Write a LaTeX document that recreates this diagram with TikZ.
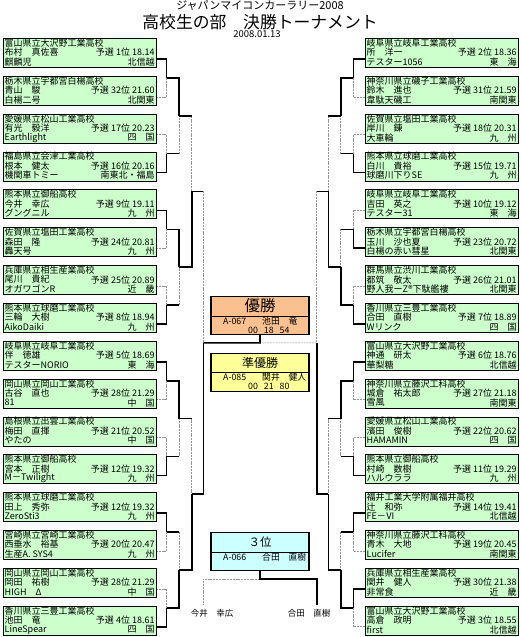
\documentclass[tikz,border=0pt]{standalone}
\usepackage{fontspec}
\newfontfamily\jp{Noto Sans CJK JP}
\usetikzlibrary{calc}
\definecolor{boxgreen}{RGB}{204,255,204}
\definecolor{winorange}{RGB}{250,192,144}
\definecolor{runyellow}{RGB}{255,255,153}
\definecolor{thirdcyan}{RGB}{204,255,255}
\definecolor{losegray}{RGB}{150,150,150}
\tikzset{
  entrybox/.style={draw=black, line width=0.7pt, fill=boxgreen, minimum width=153.5pt, minimum height=29pt, inner sep=0pt, anchor=north west},
  etext/.style={inner sep=0pt, font=\jp\fontsize{9}{9}\selectfont},
  winner/.style={line width=1.6pt, black},
  loser/.style={line width=0.6pt, losegray, dash pattern=on 2pt off 0.8pt},
  prizebox/.style={draw=black, line width=1.2pt, minimum width=98pt, minimum height=38pt, inner sep=0pt, anchor=north},
  ptext/.style={inner sep=0pt, font=\jp\fontsize{8.8}{9}\selectfont, anchor=west},
  lab/.style={inner sep=0pt, font=\jp\fontsize{8.5}{9}\selectfont}
}
\newcommand\entry[8]{%
  \pgfmathsetmacro\myboxtop{38+37.85*(#2-1)}%
  \node[entrybox] (#1#2) at (#8,\myboxtop) {};
  \node[etext, anchor=west] (#1#2s) at ($(#1#2.north west)+(2,5)$) {#3};
  \node[etext, anchor=west] (#1#2n) at ($(#1#2.north west)+(2,14.5)$) {#4};
  \node[etext, anchor=east] (#1#2q) at ($(#1#2.north east)+(-2,14.5)$) {#5};
  \node[etext, anchor=west] (#1#2c) at ($(#1#2.north west)+(2,24)$) {#6};
  \node[etext, anchor=east] (#1#2r) at ($(#1#2.north east)+(-2,24)$) {#7};
}
% #1 xprev, #2 ya, #3 yb, #4 xm, #5 lower wins (0/1), #6 id, #7 arms always thick (0/1)
\newcommand\bmatch[7]{%
  \pgfmathsetmacro\myyj{(#2+#3)/2}%
  \coordinate (#6a) at (#1,#2);%
  \coordinate (#6b) at (#1,#3);%
  \coordinate (#6ta) at (#4,#2);%
  \coordinate (#6tb) at (#4,#3);%
  \coordinate (#6) at (#4,\myyj);%
  \ifnum#5=0\relax
    \draw[loser] (#6tb) -- (#6);
    \ifnum#7=1\relax \draw[winner] (#6b) -- (#6tb); \else \draw[loser] (#6b) -- (#6tb); \fi
    \draw[winner] (#6a) -| (#6);
  \else
    \draw[loser] (#6ta) -- (#6);
    \ifnum#7=1\relax \draw[winner] (#6a) -- (#6ta); \else \draw[loser] (#6a) -- (#6ta); \fi
    \draw[winner] (#6b) -| (#6);
  \fi}
\begin{document}
\begin{tikzpicture}[x=1pt,y=-1pt]
\useasboundingbox (0,0) rectangle (520,637);
\fill[white] (0,0) rectangle (520,637);
% titles
\node[inner sep=0, font=\jp\fontsize{11}{11}\selectfont] (t1) at (260,6) {ジャパンマイコンカーラリー2008};
\node[inner sep=0, font=\jp\fontsize{16.8}{17}\selectfont] (t2) at (260,22.5) {高校生の部　決勝トーナメント};
\node[inner sep=0, font=\jp\fontsize{9.5}{10}\selectfont] (t3) at (257,34.5) {2008.01.13};
% ---------- bracket lines, left ----------
\foreach \k/\w in {1/0,2/1,3/0,4/1,5/0,6/1,7/0,8/1}{
  \pgfmathsetmacro\ya{59+37.85*(2*\k-2)}
  \pgfmathsetmacro\yb{59+37.85*(2*\k-1)}
  \bmatch{156}{\ya}{\yb}{166.5}{\w}{la\k}{0}
}
\foreach \m/\w in {1/0,2/0,3/0,4/1}{
  \pgfmathsetmacro\ya{59+37.85*(4*\m-3.5)}
  \pgfmathsetmacro\yb{59+37.85*(4*\m-1.5)}
  \bmatch{166.5}{\ya}{\yb}{179.2}{\w}{lb\m}{1}
}
\foreach \n/\w in {1/1,2/1}{
  \pgfmathsetmacro\ya{59+37.85*(8*\n-6.5)}
  \pgfmathsetmacro\yb{59+37.85*(8*\n-2.5)}
  \bmatch{179.2}{\ya}{\yb}{191.7}{\w}{lc\n}{1}
}
\pgfmathsetmacro\ya{59+37.85*3.5}
\pgfmathsetmacro\yb{59+37.85*11.5}
\bmatch{191.7}{\ya}{\yb}{203.3}{1}{ld}{1}
% ---------- bracket lines, right ----------
\foreach \k/\w in {1/0,2/1,3/1,4/1,5/0,6/1,7/0,8/0}{
  \pgfmathsetmacro\ya{59+37.85*(2*\k-2)}
  \pgfmathsetmacro\yb{59+37.85*(2*\k-1)}
  \bmatch{364.5}{\ya}{\yb}{353.3}{\w}{ra\k}{0}
}
\foreach \m/\w in {1/0,2/1,3/0,4/1}{
  \pgfmathsetmacro\ya{59+37.85*(4*\m-3.5)}
  \pgfmathsetmacro\yb{59+37.85*(4*\m-1.5)}
  \bmatch{353.3}{\ya}{\yb}{340.7}{\w}{rb\m}{1}
}
\foreach \n/\w in {1/1,2/1}{
  \pgfmathsetmacro\ya{59+37.85*(8*\n-6.5)}
  \pgfmathsetmacro\yb{59+37.85*(8*\n-2.5)}
  \bmatch{340.7}{\ya}{\yb}{328.3}{\w}{rc\n}{1}
}
\pgfmathsetmacro\ya{59+37.85*3.5}
\pgfmathsetmacro\yb{59+37.85*11.5}
\bmatch{328.3}{\ya}{\yb}{316.7}{1}{rd}{1}
% ---------- prize boxes ----------
\node[prizebox, fill=winorange] (W) at (260,296) {};
\draw[line width=0.8pt] ($(W.north west)+(0,20)$) -- ($(W.north east)+(0,20)$);
\node[inner sep=0, font=\jp\fontsize{15.5}{16}\selectfont] (Wt) at (260,306) {優勝};
\node[ptext] (Wa) at (223,321) {A-067};
\node[ptext] (Wb) at (262,321) {池田　竜};
\node[ptext] (Wc) at (248,330) {00\hspace{6pt}18\hspace{6pt}54};

\node[prizebox, fill=runyellow] (S) at (260,352.5) {};
\draw[line width=0.8pt] ($(S.north west)+(0,20)$) -- ($(S.north east)+(0,20)$);
\node[inner sep=0, font=\jp\fontsize{12}{12}\selectfont] (St) at (260,362.5) {準優勝};
\node[ptext] (Sa) at (223,377.5) {A-085};
\node[ptext] (Sb) at (262,377.5) {関井　健人};
\node[ptext] (Sc) at (248,386.5) {00\hspace{6pt}21\hspace{6pt}80};

\node[prizebox, fill=thirdcyan] (T) at (260,532) {};
\draw[line width=0.8pt] ($(T.north west)+(0,20)$) -- ($(T.north east)+(0,20)$);
\node[inner sep=0, font=\jp\fontsize{11.5}{12}\selectfont] (Tt) at (260,542) {３位};
\node[ptext] (Ta) at (223,557) {A-066};
\node[ptext] (Tb) at (262,557) {合田　直樹};
% final
\coordinate (fm) at (260,342.875);
\draw[loser] (rd) -- (fm);
\draw[winner] (ld) -- (fm) -- (W.south);
% third place
\coordinate (tm) at (260,579);
\coordinate (tl) at (203.3,605);
\coordinate (tr) at (316.7,605);
\draw[loser] (tm) -| (tl);
\draw[winner] (T.south) -- (tm) -| (tr);
\node[lab] (tln) at (212,613) {今井　幸広};
\node[lab] (trn) at (309,613) {合田　直樹};
% ---------- entries left ----------
\entry{L}{1}{富山県立大沢野工業高校}{布村　真佐喜}{予選 1位 18.14}{麒麟児}{北信越}{2.5}
\entry{L}{2}{栃木県立宇都宮白楊高校}{青山　駿}{予選 32位 21.60}{白楊二号}{北関東}{2.5}
\entry{L}{3}{愛媛県立松山工業高校}{有光　毅洋}{予選 17位 20.23}{Earthlight}{四　国}{2.5}
\entry{L}{4}{福島県立会津工業高校}{根本　健太}{予選 16位 20.16}{機関車トミー}{南東北・福島}{2.5}
\entry{L}{5}{熊本県立御船高校}{今井　幸広}{予選 9位 19.11}{グングニル}{九　州}{2.5}
\entry{L}{6}{佐賀県立塩田工業高校}{森田　隆}{予選 24位 20.81}{轟天号}{九　州}{2.5}
\entry{L}{7}{兵庫県立相生産業高校}{尾川　貴紀}{予選 25位 20.89}{オガワゴンR}{近　畿}{2.5}
\entry{L}{8}{熊本県立球磨工業高校}{三輪　大樹}{予選 8位 18.94}{AikoDaiki}{九　州}{2.5}
\entry{L}{9}{岐阜県立岐阜工業高校}{伴　徳雄}{予選 5位 18.69}{テスターNORIO}{東　海}{2.5}
\entry{L}{10}{岡山県立岡山工業高校}{古谷　直也}{予選 28位 21.29}{81}{中　国}{2.5}
\entry{L}{11}{島根県立出雲工業高校}{梅田　直揮}{予選 21位 20.52}{やたの}{中　国}{2.5}
\entry{L}{12}{熊本県立御船高校}{宮本　正樹}{予選 12位 19.32}{M－Twilight}{九　州}{2.5}
\entry{L}{13}{熊本県立球磨工業高校}{田上　秀弥}{予選 12位 19.32}{ZeroSti3}{九　州}{2.5}
\entry{L}{14}{宮崎県立宮崎工業高校}{西垂水　裕基}{予選 20位 20.47}{生産A. SYS4}{九　州}{2.5}
\entry{L}{15}{岡山県立岡山工業高校}{岡田　祐樹}{予選 28位 21.29}{HIGH　Δ}{中　国}{2.5}
\entry{L}{16}{香川県立三豊工業高校}{池田　竜}{予選 4位 18.61}{LineSpear}{四　国}{2.5}
% ---------- entries right ----------
\entry{R}{1}{岐阜県立岐阜工業高校}{所　洋一}{予選 2位 18.36}{テスター1056}{東　海}{364.5}
\entry{R}{2}{神奈川県立磯子工業高校}{鈴木　進也}{予選 31位 21.59}{韋駄天磯工}{南関東}{364.5}
\entry{R}{3}{佐賀県立塩田工業高校}{岸川　錬}{予選 18位 20.31}{大車輪}{九　州}{364.5}
\entry{R}{4}{熊本県立球磨工業高校}{白川　貴裕}{予選 15位 19.71}{球磨川下りSE}{九　州}{364.5}
\entry{R}{5}{岐阜県立岐阜工業高校}{吉田　英之}{予選 10位 19.12}{テスター31}{東　海}{364.5}
\entry{R}{6}{栃木県立宇都宮白楊高校}{玉川　沙也夏}{予選 23位 20.72}{白楊の赤い彗星}{北関東}{364.5}
\entry{R}{7}{群馬県立渋川工業高校}{都筑　敬太}{予選 26位 21.01}{野人我ーZ®下駄艦褸}{北関東}{364.5}
\entry{R}{8}{香川県立三豊工業高校}{合田　直樹}{予選 7位 18.89}{Wリンク}{四　国}{364.5}
\entry{R}{9}{富山県立大沢野工業高校}{神通　研太}{予選 6位 18.76}{華梨糖}{北信越}{364.5}
\entry{R}{10}{神奈川県立藤沢工科高校}{城倉　祐太郎}{予選 27位 21.18}{雪風}{南関東}{364.5}
\entry{R}{11}{愛媛県立松山工業高校}{濱田　俊樹}{予選 22位 20.62}{HAMAMIN}{四　国}{364.5}
\entry{R}{12}{熊本県立御船高校}{村崎　数樹}{予選 11位 19.29}{ハルウララ}{九　州}{364.5}
\entry{R}{13}{福井工業大学附属福井高校}{辻　和弥}{予選 14位 19.41}{FE－Ⅵ}{北信越}{364.5}
\entry{R}{14}{神奈川県立藤沢工科高校}{青木　大地}{予選 19位 20.45}{Lucifer}{南関東}{364.5}
\entry{R}{15}{兵庫県立相生産業高校}{関井　健人}{予選 30位 21.38}{非常食}{近　畿}{364.5}
\entry{R}{16}{富山県立大沢野工業高校}{高倉　政明}{予選 3位 18.55}{first}{北信越}{364.5}
\end{tikzpicture}
\end{document}
